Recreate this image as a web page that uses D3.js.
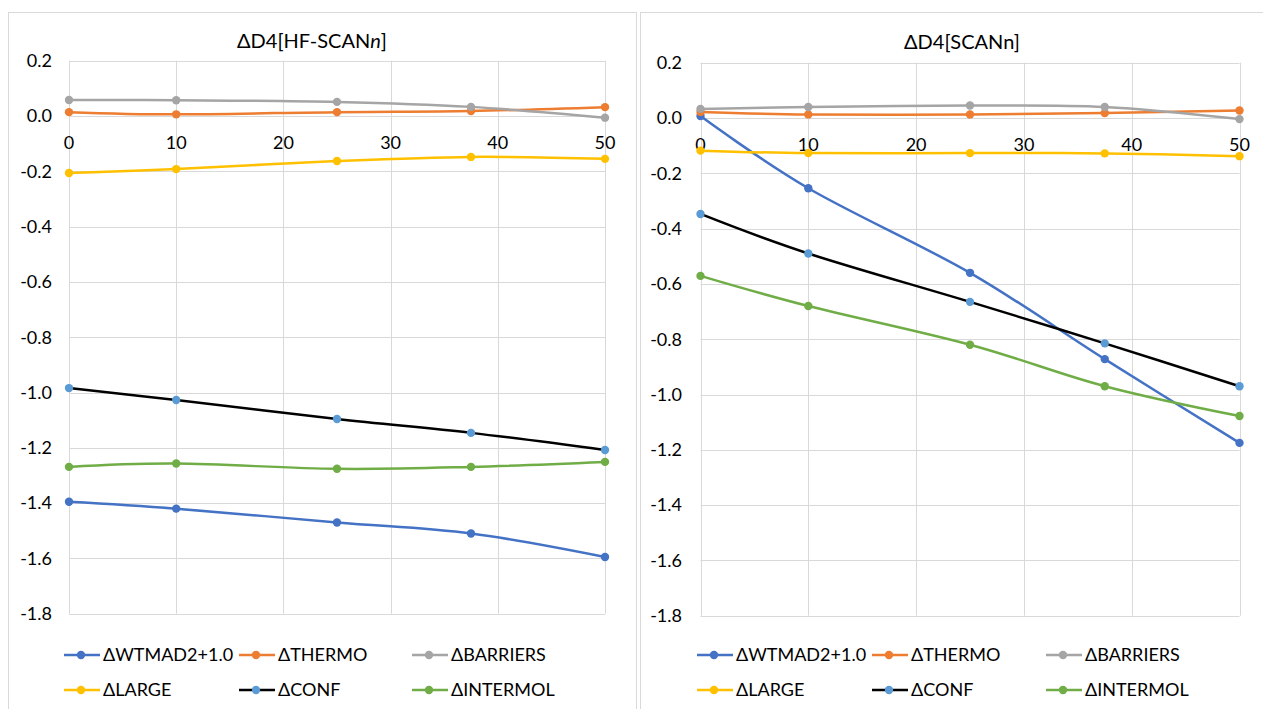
<!DOCTYPE html>
<html>
<head>
<meta charset="utf-8">
<script src="https://cdn.jsdelivr.net/npm/d3@7"></script>
<style>
  html, body { margin: 0; padding: 0; background: #fff; }
  svg { display: block; font-family: "Lato", "Liberation Sans", sans-serif; }
</style>
</head>
<body>
<svg id="chart" width="1263" height="709"></svg>
<script>
// Hartree-Fock exchange admixture (%) at which each functional was evaluated
const exchangeFractions = [0, 10, 25, 37.5, 50];

const xTicks = [0, 10, 20, 30, 40, 50];
const yTicks = [0.2, 0.0, -0.2, -0.4, -0.6, -0.8, -1.0, -1.2, -1.4, -1.6, -1.8];

const seriesNames = ["ΔWTMAD2+1.0", "ΔTHERMO", "ΔBARRIERS", "ΔLARGE", "ΔCONF", "ΔINTERMOL"];

// ΔD4[HF-SCANn] panel
const hfWtmad    = [-1.395, -1.42, -1.47, -1.51, -1.595];
const hfThermo   = [0.014, 0.006, 0.014, 0.018, 0.032];
const hfBarriers = [0.058, 0.057, 0.051, 0.033, -0.006];
const hfLarge    = [-0.206, -0.192, -0.163, -0.148, -0.155];
const hfConf     = [-0.984, -1.027, -1.096, -1.146, -1.208];
const hfIntermol = [-1.269, -1.257, -1.276, -1.269, -1.251];

// ΔD4[SCANn] panel
const scWtmad    = [0.007, -0.254, -0.56, -0.872, -1.175];
const scThermo   = [0.022, 0.013, 0.013, 0.018, 0.027];
const scBarriers = [0.033, 0.04, 0.045, 0.04, -0.004];
const scLarge    = [-0.118, -0.127, -0.127, -0.128, -0.138];
const scConf     = [-0.347, -0.49, -0.665, -0.815, -0.97];
const scIntermol = [-0.571, -0.68, -0.82, -0.97, -1.078];

const lineColors   = ["#4472C4", "#ED7D31", "#A5A5A5", "#FFC000", "#000000", "#70AD47"];
const markerColors = ["#4472C4", "#ED7D31", "#A5A5A5", "#FFC000", "#5B9BD5", "#70AD47"];

const panels = [
  {
    title: ["ΔD4[HF-SCAN", "n", "]"],
    series: [hfWtmad, hfThermo, hfBarriers, hfLarge, hfConf, hfIntermol],
    frame: { x: 8.5, y: 12.5, w: 628, h: 720 },
    plot: { left: 69, right: 605, top: 60.7, bottom: 613.7 },
    titleX: 312, titleY: 48,
    labelRight: 52,
    legendCols: [64, 239, 412],
    legendRows: [655, 690]
  },
  {
    title: ["ΔD4[SCANn]"],
    series: [scWtmad, scThermo, scBarriers, scLarge, scConf, scIntermol],
    frame: { x: 640.5, y: 12.5, w: 640, h: 720 },
    plot: { left: 700.5, right: 1239.5, top: 62.7, bottom: 615.7 },
    titleX: 962, titleY: 49,
    labelRight: 682,
    legendCols: [697, 872, 1046],
    legendRows: [655, 690]
  }
];

const svg = d3.select("#chart");
const gridColor = "#D9D9D9";

panels.forEach(p => {
  const g = svg.append("g");

  // chart area border
  g.append("rect")
    .attr("x", p.frame.x).attr("y", p.frame.y)
    .attr("width", p.frame.w).attr("height", p.frame.h)
    .attr("fill", "#fff").attr("stroke", gridColor).attr("stroke-width", 1);

  const x = d3.scaleLinear().domain([0, 50]).range([p.plot.left, p.plot.right]);
  const y = d3.scaleLinear().domain([0.2, -1.8]).range([p.plot.top, p.plot.bottom]);

  // horizontal gridlines
  g.append("g").selectAll("line").data(yTicks).join("line")
    .attr("x1", p.plot.left).attr("x2", p.plot.right)
    .attr("y1", d => Math.round(y(d)) + 0.5).attr("y2", d => Math.round(y(d)) + 0.5)
    .attr("stroke", gridColor).attr("stroke-width", 1);

  // vertical gridlines
  g.append("g").selectAll("line").data(xTicks).join("line")
    .attr("x1", d => Math.round(x(d)) + 0.5).attr("x2", d => Math.round(x(d)) + 0.5)
    .attr("y1", p.plot.top).attr("y2", p.plot.bottom)
    .attr("stroke", gridColor).attr("stroke-width", 1);

  // y tick labels
  g.append("g").selectAll("text").data(yTicks).join("text")
    .attr("x", p.labelRight).attr("y", d => y(d))
    .attr("dy", "0.35em").attr("text-anchor", "end")
    .attr("font-size", 18).attr("fill", "#000")
    .text(d => d3.format(".1f")(d).replace("−", "-"));

  // x tick labels sit just under the zero line
  g.append("g").selectAll("text").data(xTicks).join("text")
    .attr("x", d => x(d)).attr("y", y(0) + 27)
    .attr("dy", "0.35em").attr("text-anchor", "middle")
    .attr("font-size", 18).attr("fill", "#000")
    .text(d => d);

  // title
  const t = g.append("text")
    .attr("x", p.titleX).attr("y", p.titleY)
    .attr("text-anchor", "middle").attr("font-size", 20).attr("fill", "#000");
  p.title.forEach((part, i) => {
    t.append("tspan").text(part).attr("font-style", (p.title.length > 1 && i === 1) ? "italic" : "normal");
  });

  const line = d3.line()
    .x((d, i) => x(exchangeFractions[i]))
    .y(d => y(d))
    .curve(d3.curveCatmullRom.alpha(0));

  p.series.forEach((vals, si) => {
    const sg = g.append("g");
    sg.append("path")
      .attr("d", line(vals))
      .attr("fill", "none")
      .attr("stroke", lineColors[si])
      .attr("stroke-width", 2.5)
      .attr("stroke-linecap", "round");
    sg.selectAll("circle").data(vals).join("circle")
      .attr("cx", (d, i) => x(exchangeFractions[i]))
      .attr("cy", d => y(d))
      .attr("r", 4.2)
      .attr("fill", markerColors[si]);
  });

  // legend: three columns, two rows
  seriesNames.forEach((name, si) => {
    const lx = p.legendCols[si % 3];
    const ly = p.legendRows[Math.floor(si / 3)];
    const lg = g.append("g");
    lg.append("line")
      .attr("x1", lx).attr("x2", lx + 36)
      .attr("y1", ly).attr("y2", ly)
      .attr("stroke", lineColors[si]).attr("stroke-width", 2.5);
    lg.append("circle")
      .attr("cx", lx + 17).attr("cy", ly).attr("r", 4.2)
      .attr("fill", markerColors[si]);
    lg.append("text")
      .attr("x", lx + 39).attr("y", ly)
      .attr("dy", "0.35em")
      .attr("font-size", 18).attr("fill", "#000")
      .text(name);
  });
});
</script>
</body>
</html>
